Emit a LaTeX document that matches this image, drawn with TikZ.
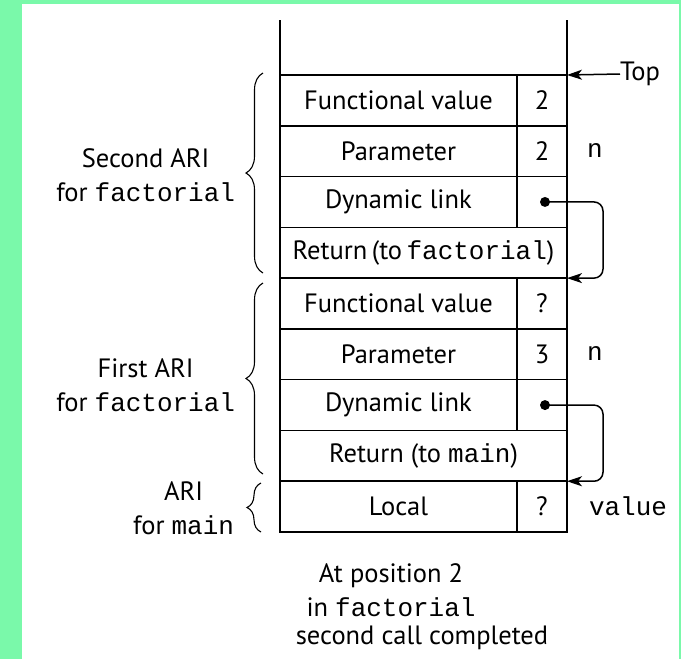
\documentclass[tikz,border=0pt]{standalone}
\usepackage{fontspec}
\setmainfont{PT Sans}
\setmonofont[Scale=0.98]{Liberation Mono}
\usetikzlibrary{arrows.meta,decorations.pathreplacing,positioning}
\tikzset{>={Stealth[width=10pt,length=15pt,inset=4pt]}}
\definecolor{Frame}{RGB}{122,249,170}

\tikzset{
  txt/.style={inner sep=0pt,outer sep=0pt,font=\fontsize{26.5}{34}\selectfont},
  cell/.style={txt,draw,line width=1.5pt,anchor=north west,minimum width=237pt,minimum height=50.78pt},
  valcell/.style={cell,minimum width=50pt},
  widecell/.style={cell,minimum width=287pt},
  dot/.style={circle,fill,inner sep=0pt,minimum size=10pt},
  curly/.style={decorate,decoration={brace,amplitude=17pt},line width=1.1pt},
  link/.style={-{Stealth[width=10pt,length=15pt,inset=4pt]},line width=1.5pt,rounded corners=9pt}
}

\begin{document}
\begin{tikzpicture}[x=1pt,y=-1pt]
	% frame
	\fill[Frame] (0,0) rectangle (681,659);
	\fill[white] (22,4) rectangle (679,659);
	\useasboundingbox (0,0) rectangle (681,659);

	% second ARI for factorial
	\node[cell] (fv2) at (280,75) {Functional value};
	\node[valcell] (fv2v) at (fv2.north east) {2};
	\node[cell] (par2) at (fv2.south west) {Parameter};
	\node[valcell] (par2v) at (par2.north east) {2};
	\node[cell] (dl2) at (par2.south west) {Dynamic link};
	\node[valcell] (dl2v) at (dl2.north east) {};
	\node[widecell] (ret2) at (dl2.south west) {Return\,(to\,\texttt{factorial})};

	% first ARI for factorial
	\node[cell] (fv1) at (ret2.south west) {Functional value};
	\node[valcell] (fv1v) at (fv1.north east) {?};
	\node[cell] (par1) at (fv1.south west) {Parameter};
	\node[valcell] (par1v) at (par1.north east) {3};
	\node[cell] (dl1) at (par1.south west) {Dynamic link};
	\node[valcell] (dl1v) at (dl1.north east) {};
	\node[widecell] (ret1) at (dl1.south west) {Return (to \texttt{main})};

	% ARI for main
	\node[cell] (loc) at (ret1.south west) {Local};
	\node[valcell] (locv) at (loc.north east) {?};

	% open top of the stack
	\draw[line width=1.5pt] (fv2.north west) -- ++(0,-55);
	\draw[line width=1.5pt] (fv2v.north east) -- ++(0,-55);

	% top pointer
	\node[txt,anchor=west] (top) at (620,74) {Top};
	\draw[link] (top.west) -- (fv2v.north east);

	% variable names
	\node[txt] (n2) at (595,151) {\texttt{n}};
	\node[txt] (n1) at (595,354) {\texttt{n}};
	\node[txt] (val) at (628,506) {\texttt{value}};

	% dynamic links
	\node[dot,xshift=3pt] (dot2) at (dl2v.center) {};
	\draw[link] (dot2.center) -- ++(58,0) |- (ret2.south east);
	\node[dot,xshift=3pt] (dot1) at (dl1v.center) {};
	\draw[link] (dot1.center) -- ++(58,0) |- (ret1.south east);

	% braces and their labels
	\draw[curly] (263,273) -- (263,73);
	\node[txt,align=center,anchor=east] (ari2) at (235,175) {Second ARI\\for \texttt{factorial}};
	\draw[curly] (263,474) -- (263,283);
	\node[txt,align=center,anchor=east] (ari1) at (235,385) {First ARI\\for \texttt{factorial}};
	\draw[curly,decoration={amplitude=14pt}] (261,532) -- (261,483);
	\node[txt,align=center,anchor=east] (ari0) at (234,508) {ARI\\for \texttt{main}};

	% caption
	\node[txt,align=center] (pos) at (391,590) {At position 2\\in \texttt{factorial}};
	\node[txt] (done) at (422,638) {second call completed};
\end{tikzpicture}
\end{document}
